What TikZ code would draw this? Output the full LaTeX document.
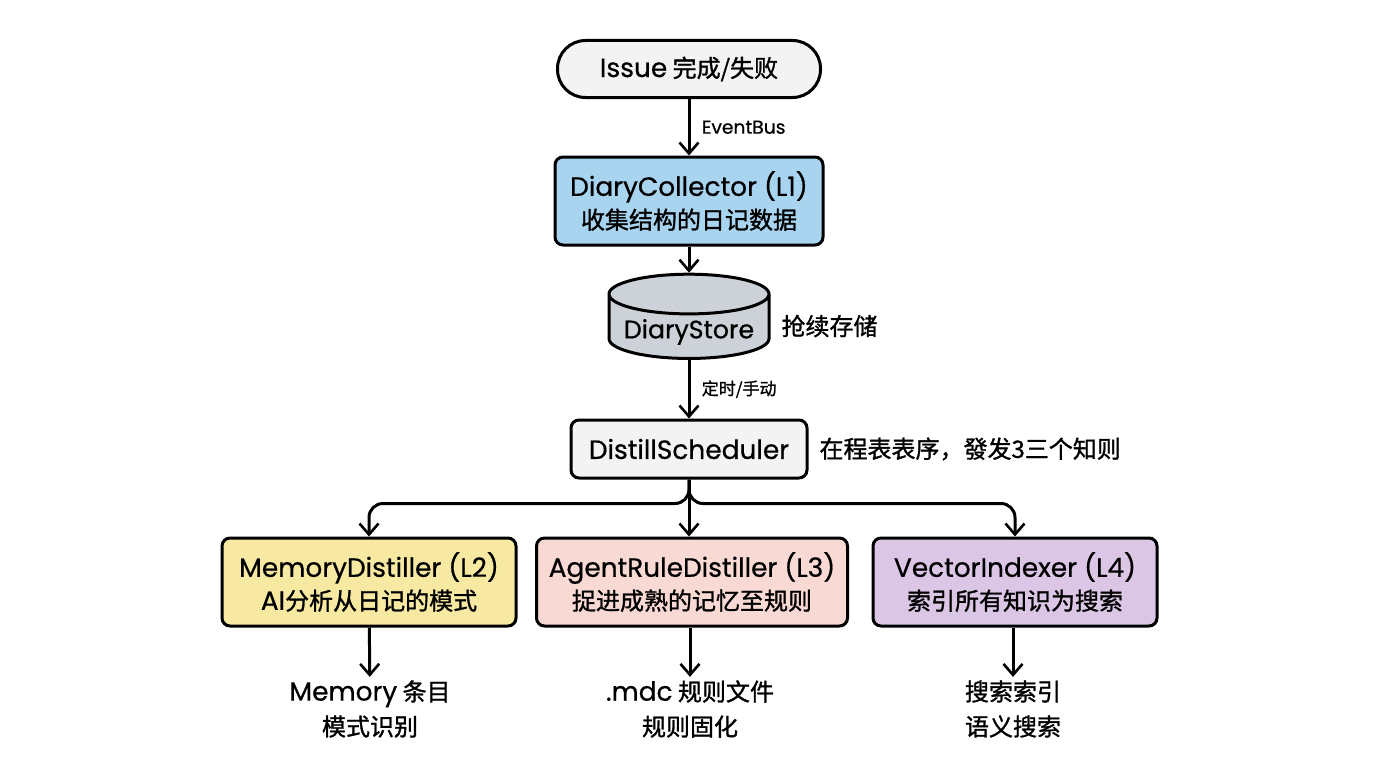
\documentclass[tikz,border=0pt]{standalone}
\usepackage{fontspec}
\setmainfont{Noto Sans CJK SC}[FakeBold=1.2]
\newfontfamily\lat{Poppins}[FakeBold=0.6, Scale=1.1]
\usetikzlibrary{shapes.geometric, arrows.meta, positioning}

\definecolor{pillgray}{HTML}{F3F3F3}
\definecolor{collectblue}{HTML}{A9D4F0}
\definecolor{storegray}{HTML}{CDD1D8}
\definecolor{memyellow}{HTML}{F8E9A2}
\definecolor{rulepink}{HTML}{F9D9D3}
\definecolor{vecpurple}{HTML}{DCC6E6}

\tikzset{
  stagebox/.style={draw, line width=3pt, rounded corners=8pt, align=center,
    font=\fontsize{24}{33}\selectfont, inner sep=0pt},
  flow/.style={-{Straight Barb[length=11pt,width=19pt,line width=2.6pt]}, line width=3pt},
  sidelabel/.style={font=\fontsize{17}{22}\selectfont},
  notelabel/.style={font=\fontsize{24}{28}\selectfont, anchor=west},
  outlabel/.style={align=center, font=\fontsize{24}{35}\selectfont}
}

\begin{document}
\begin{tikzpicture}[x=1pt, y=-1pt]
    \useasboundingbox (0,0) rectangle (1376,768);

    % Trigger and collection
    \node[stagebox, fill=pillgray, rounded corners=28pt, minimum width=263pt, minimum height=57pt] (issue) at (689,69) {{\lat Issue} 完成/失败};
    \node[stagebox, fill=collectblue, minimum width=268pt, minimum height=88pt] (collector) at (689,201) {{\lat DiaryCollector (L1)}\\收集结构的日记数据};

    % Storage
    \node[cylinder, shape border rotate=90, aspect=0.35, draw, line width=3pt, fill=storegray,
        minimum width=160pt, minimum height=82pt, inner sep=0pt, font=\fontsize{23}{28}\selectfont,
        label={[font=\fontsize{23}{28}\selectfont, yshift=-5pt]center:{\lat DiaryStore}}] (store) at (689,327) {\phantom{DiaryStore}};
    \node[notelabel] (storenote) at (778,326) {抢续存储};

    % Scheduler
    \node[stagebox, fill=pillgray, minimum width=236pt, minimum height=58pt] (sched) at (689,449) {\lat DistillScheduler};
    \node[notelabel] (schednote) at (816,449) {在程表表序，發发3三个知则};

    % Distillers
    \node[stagebox, fill=memyellow, minimum width=294pt, minimum height=88pt] (mem) at (369,582) {{\lat MemoryDistiller (L2)}\\{\lat AI}分析从日记的模式};
    \node[stagebox, fill=rulepink, minimum width=311pt, minimum height=88pt] (rule) at (692,582) {{\lat AgentRuleDistiller (L3)}\\捉进成熟的记忆至规则};
    \node[stagebox, fill=vecpurple, minimum width=284pt, minimum height=88pt] (vec) at (1015,582) {{\lat VectorIndexer (L4)}\\索引所有知识为搜索};

    % Outputs
    \node[outlabel] (memout) at (370,709) {{\lat Memory} 条目\\模式识别};
    \node[outlabel] (ruleout) at (690,709) {{\lat .mdc} 规则文件\\规则固化};
    \node[outlabel] (vecout) at (1013,709) {搜索索引\\语义搜索};

    % Connectors
    \draw[flow] (issue) -- (collector) node[midway, right=8pt, sidelabel] {\lat EventBus};
    \draw[flow] (collector) -- (store);
    \draw[flow] (store) -- (sched) node[midway, right=8pt, sidelabel] {定时/手动};
    \draw[flow, rounded corners=14pt] (sched.south) -- ++(0,24) -| (mem.north);
    \draw[flow, rounded corners=14pt] (sched.south) -- ++(0,24) -| (vec.north);
    \draw[flow] (sched.south) -- (sched.south |- rule.north);
    \draw[flow] (mem) -- (memout);
    \draw[flow] (rule.south -| ruleout) -- (ruleout);
    \draw[flow] (vec.south -| vecout) -- (vecout);

\end{tikzpicture}
\end{document}
